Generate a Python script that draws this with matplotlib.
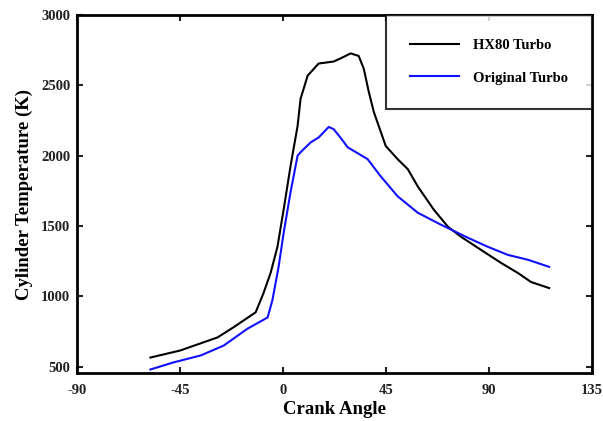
import matplotlib
matplotlib.use("Agg")
import matplotlib.pyplot as plt

# crank angle (deg) vs cylinder temperature (K)
hx80_angle = [-58, -45, -28.7, -21.7, -12, -8.6, -5.5, -2.5, 0.2, 3.2, 6.3, 7.6, 10.7,
              15.5, 22, 25, 29.5, 33, 35.2, 37.4, 39.6, 44.8, 50, 54.5, 58.8, 65.8,
              72, 77.7, 86.4, 95.2, 102.6, 108.3, 116.2]
hx80_temp = [565, 615, 708, 780, 887, 1023, 1166, 1352, 1617, 1925, 2212, 2405, 2570,
             2656, 2670, 2692, 2728, 2710, 2620, 2455, 2312, 2070, 1976, 1904, 1782, 1617,
             1495, 1424, 1331, 1238, 1166, 1102, 1059]

orig_angle = [-58, -48, -36, -26, -15.6, -6.8, -4.7, -2, 0.2, 3.2, 6.3, 7.6, 12, 15.5,
              19.9, 22, 25, 28.2, 36.9, 42.6, 50, 58.8, 68.9, 80.7, 89.5, 98.2, 107, 116.2]
orig_temp = [480, 530, 580, 650, 770, 850, 973, 1210, 1450, 1740, 2000, 2025, 2095, 2130,
             2205, 2190, 2130, 2060, 1976, 1854, 1712, 1595, 1510, 1417, 1352, 1295, 1260, 1210]

xticks = [-90, -45, 0, 45, 90, 135]
yticks = [500, 1000, 1500, 2000, 2500, 3000]

plt.rcParams["font.family"] = "Liberation Serif"
plt.rcParams["font.weight"] = "bold"
plt.rcParams["axes.unicode_minus"] = False

fig = plt.figure(figsize=(6.03, 4.21), dpi=100)
ax = fig.add_axes([0.128, 0.114, 0.854, 0.85])

ax.plot(hx80_angle, hx80_temp, color="black", lw=1.5, label="HX80 Turbo")
ax.plot(orig_angle, orig_temp, color="#1010ff", lw=1.5, label="Original Turbo")

ax.set_xlim(-90, 135)
ax.set_ylim(455, 3000)
ax.set_xticks(xticks)
ax.set_yticks(yticks)
ax.tick_params(direction="in", top=True, right=True, length=4, width=1.5,
               labelsize=10.5, colors="#222222")
ax.tick_params(axis="x", pad=8)
ax.tick_params(axis="y", pad=5)
for s in ax.spines.values():
    s.set_linewidth(2)

ax.set_xlabel("Crank Angle", fontsize=13.5, fontweight="bold", labelpad=3)
ax.set_ylabel("Cylinder Temperature (K)", fontsize=13.5, fontweight="bold", labelpad=6)

leg = ax.legend(loc="upper right", fontsize=10.5, frameon=True, fancybox=False,
                borderaxespad=0, handlelength=3.3, handletextpad=1.0,
                borderpad=1.65, labelspacing=1.3, edgecolor="black")
leg.get_frame().set_linewidth(1.5)

fig.savefig("out.png", dpi=100)
